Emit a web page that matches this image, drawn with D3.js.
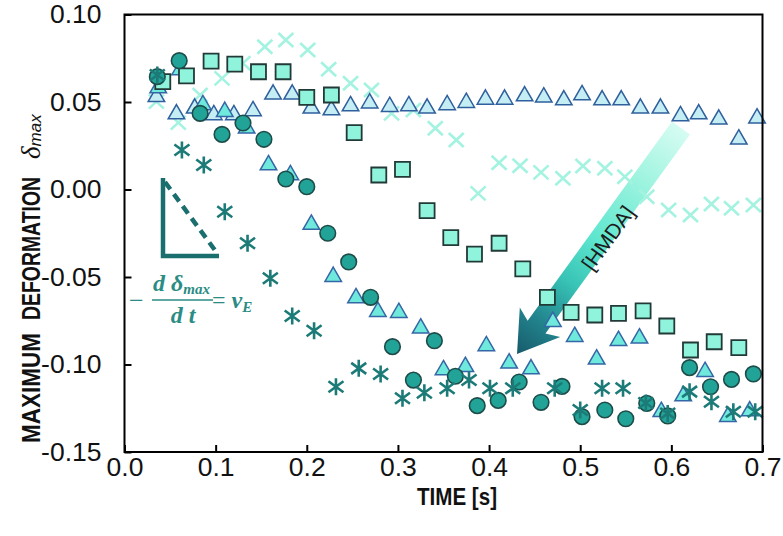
<!DOCTYPE html>
<html><head><meta charset="utf-8">
<script src="https://cdn.jsdelivr.net/npm/d3@7"></script>
<style>body{margin:0;background:#fff}svg{display:block}</style>
</head><body>
<svg id="c" width="783" height="536"></svg>
<script>
// ---- data (time [s], max deformation) ----
const xTicks = [0.0,0.1,0.2,0.3,0.4,0.5,0.6,0.7];
const yTicks = [-0.15,-0.10,-0.05,0.00,0.05,0.10];

const crossT = [0.035,0.059,0.083,0.107,0.130,0.154,0.177,0.201,0.224,0.248,0.271,0.293,0.317,0.341,0.364,0.388,0.411,0.434,0.457,0.481,0.503,0.527,0.549,0.573,0.597,0.621,0.644,0.666,0.690];
const crossD = [0.0502,0.0382,0.0540,0.0635,0.0721,0.0816,0.0854,0.0797,0.0687,0.0607,0.0569,0.0435,0.0454,0.0350,0.0283,-0.0022,0.0153,0.0136,0.0098,0.0064,0.0134,0.0121,0.0073,-0.0041,-0.0117,-0.0146,-0.0083,-0.0107,-0.0089];

const triUpT = [0.035,0.057,0.077,0.098,0.120,0.141,0.163,0.184,0.205,0.227,0.248,0.269,0.291,0.312,0.332,0.354,0.375,0.396,0.417,0.439,0.460,0.482,0.502,0.524,0.545,0.566,0.588,0.610,0.630,0.652,0.674,0.694];
const triUpD = [0.0530,0.0431,0.0464,0.0426,0.0426,0.0449,0.0544,0.0544,0.0464,0.0454,0.0477,0.0493,0.0473,0.0477,0.0464,0.0483,0.0496,0.0515,0.0515,0.0534,0.0527,0.0511,0.0540,0.0511,0.0511,0.0464,0.0464,0.0420,0.0431,0.0401,0.0287,0.0407];

const triLoT = [0.037,0.061,0.086,0.110,0.134,0.158,0.182,0.205,0.229,0.254,0.278,0.301,0.325,0.350,0.374,0.397,0.422,0.446,0.470,0.494,0.518,0.542,0.565,0.589,0.613,0.637,0.662,0.686];
const triLoD = [0.0580,0.0683,0.0483,0.0445,0.0350,0.0140,0.0083,-0.0200,-0.0498,-0.0620,-0.0698,-0.0704,-0.0793,-0.1031,-0.1013,-0.0894,-0.0993,-0.1026,-0.0755,-0.0841,-0.0970,-0.0864,-0.0850,-0.1270,-0.1180,-0.1041,-0.1298,-0.1266];

const squareT = [0.042,0.068,0.095,0.121,0.147,0.174,0.200,0.227,0.252,0.279,0.305,0.332,0.358,0.384,0.411,0.437,0.464,0.490,0.516,0.542,0.569,0.595,0.621,0.647,0.674];
const squareD = [0.0616,0.0649,0.0734,0.0717,0.0673,0.0673,0.0527,0.0540,0.0325,0.0083,0.0115,-0.0121,-0.0275,-0.0369,-0.0307,-0.0454,-0.0616,-0.0702,-0.0717,-0.0708,-0.0694,-0.0780,-0.0917,-0.0870,-0.0904];

const circleT = [0.036,0.060,0.083,0.107,0.130,0.153,0.177,0.200,0.223,0.246,0.270,0.294,0.317,0.340,0.363,0.387,0.410,0.433,0.457,0.480,0.502,0.527,0.550,0.573,0.596,0.620,0.643,0.666,0.690];
const circleD = [0.0645,0.0736,0.0435,0.0315,0.0380,0.0287,0.0060,0.0016,-0.0250,-0.0414,-0.0616,-0.0898,-0.1089,-0.0864,-0.1067,-0.1235,-0.1205,-0.1100,-0.1216,-0.1125,-0.1298,-0.1260,-0.1310,-0.1222,-0.1294,-0.1018,-0.1127,-0.1085,-0.1054];

const starT = [0.036,0.063,0.087,0.110,0.135,0.160,0.184,0.208,0.232,0.257,0.281,0.305,0.329,0.354,0.378,0.401,0.426,0.472,0.500,0.524,0.547,0.572,0.596,0.620,0.644,0.668,0.692];
const starD = [0.0654,0.0226,0.0140,-0.0127,-0.0307,-0.0507,-0.0723,-0.0807,-0.1127,-0.1022,-0.1054,-0.1193,-0.1161,-0.1136,-0.1089,-0.1136,-0.1136,-0.1136,-0.1260,-0.1136,-0.1136,-0.1220,-0.1280,-0.1155,-0.1213,-0.1270,-0.1270];

const zip = (t, d) => t.map((v, i) => ({t: v, d: d[i]}));

// ---- layout ----
const svg = d3.select('#c');
const L = 124.5, R = 762.5, T = 14.5, B = 452;
const x = d3.scaleLinear().domain([0, 0.7]).range([L, R]);
const y = d3.scaleLinear().domain([-0.15, 0.10]).range([B, T]);
const sans = "'Liberation Sans', Arial, Helvetica, sans-serif";
const serif = "'Liberation Serif', 'Times New Roman', serif";

// ---- gradient arrow [HMDA] (drawn below markers) ----
const A0 = [681, 128], A1 = [517, 354];
const len = Math.hypot(A1[0]-A0[0], A1[1]-A0[1]);
const U = [(A1[0]-A0[0])/len, (A1[1]-A0[1])/len], N = [-U[1], U[0]];
const P = (u, n) => [A0[0] + u*U[0] + n*N[0], A0[1] + u*U[1] + n*N[1]];
const defs = svg.append('defs');
const grad = defs.append('linearGradient').attr('id', 'ag').attr('gradientUnits', 'userSpaceOnUse')
  .attr('x1', A0[0]).attr('y1', A0[1]).attr('x2', A1[0]).attr('y2', A1[1]);
[[0,'#d6fcf2'],[0.25,'#9af3de'],[0.5,'#5ee6cf'],[0.68,'#38c4b6'],[0.85,'#22858e'],[1,'#175a6a']]
  .forEach(([o,c]) => grad.append('stop').attr('offset', o).attr('stop-color', c));
const apts = [P(0,-11),P(246,-11),P(240,-25),P(len,0),P(240,25),P(246,11),P(0,11)];
svg.append('path').attr('d', d3.line()(apts) + 'Z').attr('fill', 'url(#ag)');
const tc = [608, 238];
svg.append('text').attr('transform', `translate(${tc[0]},${tc[1]}) rotate(${Math.atan2(-U[1], -U[0])*180/Math.PI})`)
  .attr('text-anchor', 'middle').attr('dy', '0.35em').attr('font-family', sans).attr('font-size', 21)
  .attr('fill', '#1c1c1c').text('[HMDA]');

// ---- slope annotation ----
const ann = svg.append('g').attr('stroke', '#1b6e6e').attr('stroke-width', 4.5).attr('fill', 'none');
ann.append('path').attr('d', 'M163,178 L163,256 L219,256').attr('stroke-linejoin', 'miter');
ann.append('line').attr('x1', 165).attr('y1', 182).attr('x2', 217).attr('y2', 253).attr('stroke-dasharray', '9,6');

const fc = '#2a8c84';
const fg = svg.append('g').attr('fill', fc).attr('font-family', serif).attr('font-style', 'italic').attr('font-weight', 'bold');
fg.append('text').attr('x', 129).attr('y', 309).attr('font-size', 26).attr('font-style', 'normal').attr('font-weight', 'normal').text('\u2212');
const num = fg.append('text').attr('x', 153).attr('y', 291).attr('font-size', 24);
num.append('tspan').text('d \u03b4');
num.append('tspan').attr('font-size', 15).attr('dy', 3).text('max');
svg.append('line').attr('x1', 152).attr('x2', 213).attr('y1', 300).attr('y2', 300).attr('stroke', fc).attr('stroke-width', 1.6);
fg.append('text').attr('x', 183).attr('y', 323).attr('text-anchor', 'middle').attr('font-size', 24).text('d t');
const rhs = fg.append('text').attr('x', 212).attr('y', 308).attr('font-size', 24);
rhs.append('tspan').attr('font-style', 'normal').attr('font-weight', 'normal').text('=');
rhs.append('tspan').text(' v');
rhs.append('tspan').attr('font-size', 15).attr('dy', 4).text('E');

// ---- markers ----
const g = svg.append('g');
g.selectAll('.cx').data(zip(crossT, crossD)).join('path')
  .attr('transform', d => `translate(${x(d.t)},${y(d.d)})`)
  .attr('d', 'M-7.5,-7 L7.5,7 M-7.5,7 L7.5,-7')
  .attr('stroke', '#a4f3e1').attr('stroke-width', 2.6).attr('fill', 'none');

const tri = d3.symbol(d3.symbolTriangle, 118)();
g.selectAll('.tu').data(zip(triUpT, triUpD)).join('path')
  .attr('transform', d => `translate(${x(d.t)},${y(d.d)})`).attr('d', tri)
  .attr('fill', '#c4edf4').attr('stroke', '#2f5f9c').attr('stroke-width', 1.5);
g.selectAll('.tl').data(zip(triLoT, triLoD)).join('path')
  .attr('transform', d => `translate(${x(d.t)},${y(d.d)})`).attr('d', tri)
  .attr('fill', '#6fe9db').attr('stroke', '#3566a6').attr('stroke-width', 1.5);

g.selectAll('.sq').data(zip(squareT, squareD)).join('path')
  .attr('transform', d => `translate(${x(d.t)},${y(d.d)})`).attr('d', d3.symbol(d3.symbolSquare, 225)())
  .attr('fill', '#90f4dc').attr('stroke', '#213a37').attr('stroke-width', 1.8);

g.selectAll('.ci').data(zip(circleT, circleD)).join('circle')
  .attr('cx', d => x(d.t)).attr('cy', d => y(d.d)).attr('r', 7.8)
  .attr('fill', '#22a398').attr('stroke', '#1d4c49').attr('stroke-width', 1.6);

g.selectAll('.st').data(zip(starT, starD)).join('path')
  .attr('transform', d => `translate(${x(d.t)},${y(d.d)})`)
  .attr('d', 'M0,-8.5 L0,8.5 M-7.5,-5.5 L7.5,5.5 M-7.5,5.5 L7.5,-5.5')
  .attr('stroke', '#1c7a77').attr('stroke-width', 2.6).attr('fill', 'none');

// ---- axes ----
const fmtY = d => d.toFixed(2), fmtX = d => d.toFixed(1);
const ya = svg.append('g').attr('transform', `translate(${L},0)`)
  .call(d3.axisLeft(y).tickValues(yTicks).tickSize(-7).tickPadding(23).tickFormat(fmtY));
const xa = svg.append('g').attr('transform', `translate(0,${B})`)
  .call(d3.axisBottom(x).tickValues(xTicks).tickSize(-7).tickPadding(5).tickFormat(fmtX));
[ya, xa].forEach(a => {
  a.select('.domain').remove();
  a.selectAll('line').attr('stroke', '#000').attr('stroke-width', 2);
  a.selectAll('text').attr('font-family', sans).attr('font-size', 26.5).attr('fill', '#111');
});
svg.append('rect').attr('x', L).attr('y', T).attr('width', R-L).attr('height', B-T)
  .attr('fill', 'none').attr('stroke', '#000').attr('stroke-width', 2);

// ---- titles ----
svg.append('text').attr('x', 457).attr('y', 505).attr('text-anchor', 'middle')
  .attr('font-family', sans).attr('font-weight', 'bold').attr('font-size', 24)
  .attr('textLength', 80).attr('lengthAdjust', 'spacingAndGlyphs').attr('fill', '#111').text('TIME [s]');

svg.append('text').attr('transform', 'translate(40,443) rotate(-90)')
  .attr('font-family', sans).attr('font-weight', 'bold').attr('font-size', 26)
  .attr('textLength', 110).attr('lengthAdjust', 'spacingAndGlyphs').attr('fill', '#111').text('MAXIMUM');
svg.append('text').attr('transform', 'translate(40,320) rotate(-90)')
  .attr('font-family', sans).attr('font-weight', 'bold').attr('font-size', 26)
  .attr('textLength', 143).attr('lengthAdjust', 'spacingAndGlyphs').attr('fill', '#111').text('DEFORMATION');
const dl = svg.append('text').attr('transform', 'translate(40,159) rotate(-90)').attr('fill', '#111');
dl.append('tspan').attr('font-family', serif).attr('font-style', 'italic').attr('font-size', 27).text('\u03b4');
dl.append('tspan').attr('font-family', sans).attr('font-style', 'italic').attr('font-size', 17).attr('dy', 1).text('max');
</script>
</body></html>
